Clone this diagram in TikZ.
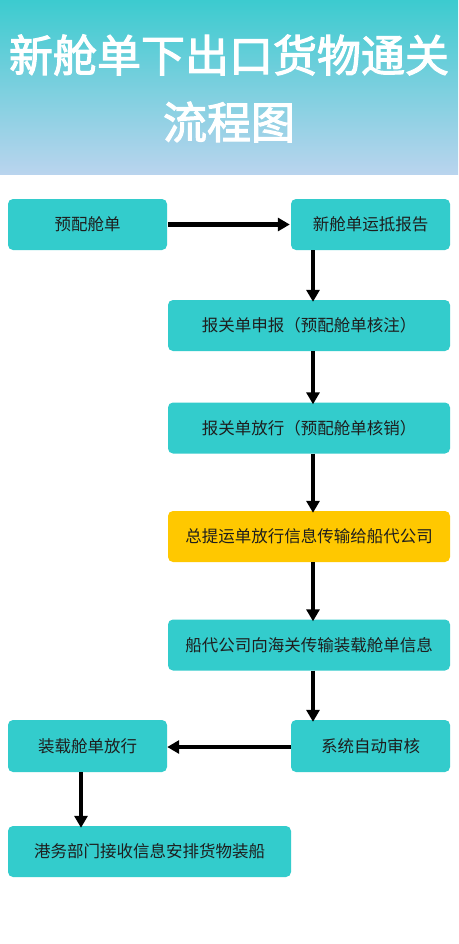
\documentclass[tikz,border=0pt]{standalone}
\usepackage{fontspec}
\setmainfont{Noto Sans CJK SC}
\newfontfamily\cjkbold{Noto Sans CJK SC}[BoldFont=*,FakeBold=2.5]
\usetikzlibrary{arrows.meta}
\definecolor{boxteal}{HTML}{33CCCC}
\definecolor{boxyellow}{HTML}{FFC800}
\definecolor{hdtop}{HTML}{3CCBCF}
\definecolor{hdbot}{HTML}{BAD4EE}
\definecolor{txt}{HTML}{1E1E1E}
\begin{document}
\begin{tikzpicture}[x=1pt,y=-1pt,
  flowbox/.style={fill=boxteal,rounded corners=5pt,inner sep=0pt,text=txt,font=\fontsize{16.5}{19}\selectfont},
  flowarrow/.style={line width=4.3pt,-{Triangle[width=13pt,length=12pt]}}]
\useasboundingbox (0,0) rectangle (458,944);
\fill[white] (0,0) rectangle (458,944);
\shade[top color=hdtop,bottom color=hdbot] (0,0) rectangle (458,175);
\node[text=white,font=\cjkbold\fontsize{44}{44}\selectfont] (t1) at (229,55) {新舱单下出口货物通关};
\node[text=white,font=\cjkbold\fontsize{44}{44}\selectfont] (t2) at (229,122) {流程图};

\node[flowbox,minimum width=159pt,minimum height=51pt] (b1) at (87.5,224.5) {预配舱单};
\node[flowbox,minimum width=159pt,minimum height=51pt] (b2) at (370.5,224.5) {新舱单运抵报告};
\node[flowbox,minimum width=282pt,minimum height=51pt] (b3) at (309,325.5) {报关单申报（预配舱单核注）};
\node[flowbox,minimum width=282pt,minimum height=51pt] (b4) at (309,428) {报关单放行（预配舱单核销）};
\node[flowbox,fill=boxyellow,minimum width=282pt,minimum height=51pt] (b5) at (309,536.5) {总提运单放行信息传输给船代公司};
\node[flowbox,minimum width=282pt,minimum height=51pt] (b6) at (309,645) {船代公司向海关传输装载舱单信息};
\node[flowbox,minimum width=159pt,minimum height=52pt] (b7) at (370.5,746) {系统自动审核};
\node[flowbox,minimum width=159pt,minimum height=52pt] (b8) at (87.5,746) {装载舱单放行};
\node[flowbox,minimum width=283pt,minimum height=51pt] (b9) at (149.5,851.5) {港务部门接收信息安排货物装船};

\draw[flowarrow] ([xshift=1pt]b1.east) -- ([xshift=-1pt]b2.west);
\draw[flowarrow] (b2.south -| 313,0) -- ([yshift=-2pt]b3.north -| 313,0);
\draw[flowarrow] (b3.south -| 313,0) -- ([yshift=-2pt]b4.north -| 313,0);
\draw[flowarrow] (b4.south -| 313,0) -- ([yshift=-2pt]b5.north -| 313,0);
\draw[flowarrow] (b5.south -| 313,0) -- ([yshift=-2pt]b6.north -| 313,0);
\draw[flowarrow] (b6.south -| 313,0) -- ([yshift=-2pt]b7.north -| 313,0);
\draw[flowarrow] ([yshift=-1pt]b7.west) -- ([yshift=-1pt]b8.east);
\draw[flowarrow] (b8.south -| 81,0) -- ([yshift=-2pt]b9.north -| 81,0);
\end{tikzpicture}
\end{document}
